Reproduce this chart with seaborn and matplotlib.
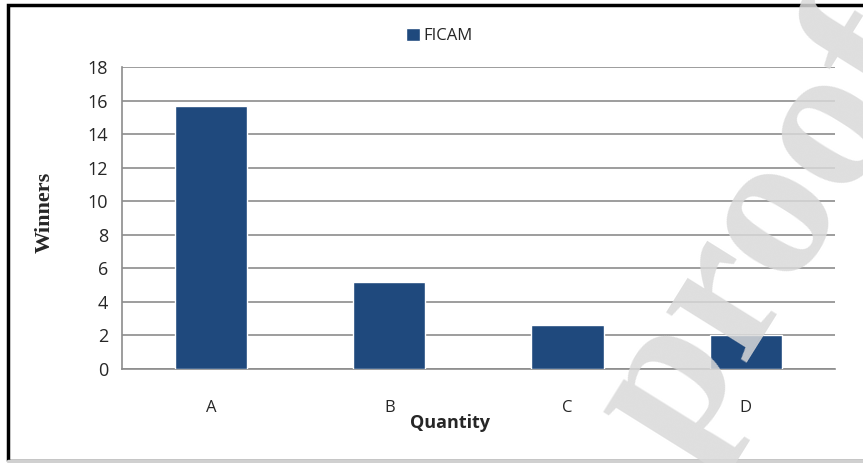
import pandas as pd
import matplotlib.pyplot as plt
import seaborn as sns
from matplotlib.patches import Rectangle

# values
categories = ["A", "B", "C", "D"]
winners = [15.7, 5.2, 2.6, 2.05]
series_name = "FICAM"
y_ticks = [0, 2, 4, 6, 8, 10, 12, 14, 16, 18]

df = pd.DataFrame({"Quantity": categories, "Winners": winners, "Series": series_name})

sns.set_style("white")
plt.rcParams["font.family"] = ["Open Sans", "DejaVu Sans"]

fig = plt.figure(figsize=(8.63, 4.63), dpi=100)
ax = fig.add_axes([0.1414, 0.203, 0.826, 0.652])

sns.barplot(data=df, x="Quantity", y="Winners", hue="Series", palette=["#1F497D"],
            width=0.405, saturation=1, ax=ax, zorder=3)

ax.set_ylim(0, 18)
ax.set_xlim(-0.5, len(categories) - 0.5)
ax.set_yticks(y_ticks)
ax.yaxis.grid(True, color="#8c8c8c", linewidth=1.2, zorder=0)
ax.set_axisbelow(True)
for s in ["top", "right"]:
    ax.spines[s].set_visible(False)
for s in ["left", "bottom"]:
    ax.spines[s].set_color("#8c8c8c")
    ax.spines[s].set_linewidth(1.2)

ax.tick_params(axis="y", length=5, color="#8c8c8c", width=1.2, labelsize=13, pad=5)
ax.tick_params(axis="x", length=0, labelsize=12, pad=22)
ax.set_xticks([i - 0.5 for i in range(len(categories) + 1)], minor=True)
ax.tick_params(axis="x", which="minor", length=5, color="#8c8c8c", width=1.2)

ax.set_xlabel("Quantity", fontsize=13, fontweight="bold")
ax.xaxis.set_label_coords(0.46, -0.15)
ax.set_ylabel("Winners", fontsize=16, fontweight="bold", family="Liberation Serif")
ax.yaxis.set_label_coords(-0.095, 0.52)

ax.legend(loc="upper center", bbox_to_anchor=(0.445, 1.18), frameon=False, fontsize=12,
          handlelength=0.8, handleheight=0.8, handletextpad=0.2)

# page border
fig.patches.append(Rectangle((0.009, 0.004), 1.2, 0.985, transform=fig.transFigure,
                             fill=False, edgecolor="black", linewidth=2.5, zorder=0))
fig.add_artist(plt.Line2D([0.009, 1], [0.004, 0.004], color="#d0d0d0", linewidth=2.5,
                          transform=fig.transFigure))

# watermark
fig.text(0.888, 0.50, "proof", fontsize=150, family="Liberation Serif", fontweight="bold",
         color="#d9d9d9", alpha=0.85, rotation=58, ha="center", va="center", zorder=10)

fig.savefig("out.png", dpi=100)
